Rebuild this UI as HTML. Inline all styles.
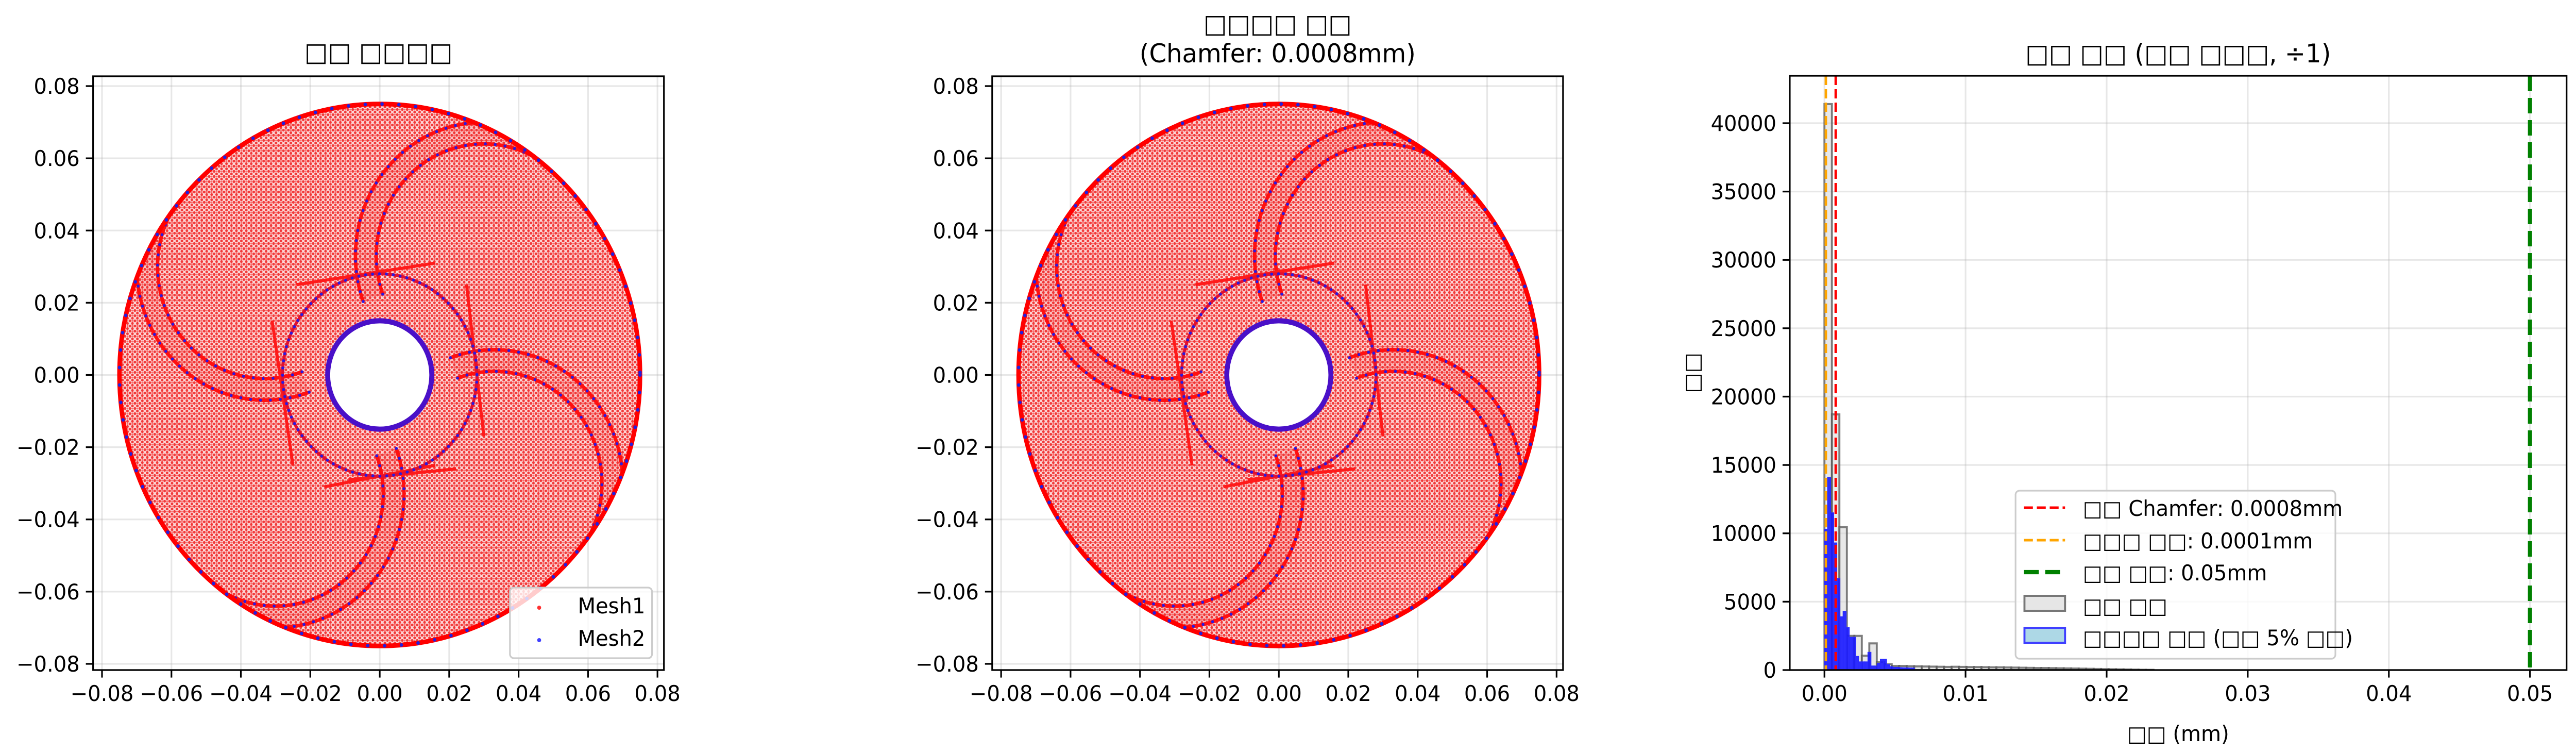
<!DOCTYPE html>
<html><head><meta charset="utf-8">
<style>
html,body{margin:0;padding:0;background:#fff;width:100%;height:100%;overflow:hidden;}
svg{display:block;width:100vw;height:100vh;}
text{font-family:"DejaVu Sans","Liberation Sans","Noto Sans CJK KR",sans-serif;}
</style></head>
<body>
<svg id="fig" viewBox="0 0 5203 1459" preserveAspectRatio="none" xmlns="http://www.w3.org/2000/svg">
<defs>
<pattern id="meshpat" width="10" height="10" patternUnits="userSpaceOnUse">
<rect width="10" height="10" fill="#fcd6d6"/>
<circle cx="2.5" cy="2.5" r="2.7" fill="#f23a3a"/>
<circle cx="7.5" cy="7.5" r="2.7" fill="#f23a3a"/>
<circle cx="7.5" cy="2.5" r="1.8" fill="#f77070"/>
</pattern>
<clipPath id="clipL"><rect x="188" y="148" width="1153" height="1152"/></clipPath>
<clipPath id="clipM"><rect x="2004" y="148" width="1155" height="1152"/></clipPath>
<clipPath id="clipH"><rect x="3615" y="147" width="1569" height="1153"/></clipPath>
</defs>
</svg>
<script>
// ---------- data ----------
const meshTicks = [-0.08,-0.06,-0.04,-0.02,0.00,0.02,0.04,0.06,0.08];
const meshTickLabels = ["\u22120.08","\u22120.06","\u22120.04","\u22120.02","0.00","0.02","0.04","0.06","0.08"];
const ringRadii = [0.015, 0.028, 0.075];           // hole, middle ring, outer boundary
const bladeCenterX = [0.030, 0.033, -0.030, -0.033];
const bladeCenterY = [0.033, -0.030, -0.033, 0.030];
const bladeStartDeg = [200, 110, 20, -70];
const bladeRadii = [0.031, 0.037];
const segX1 = [-0.024, 0.025, 0.016, -0.031, -0.009, 0.006];
const segY1 = [0.025, 0.025, -0.025, 0.015, -0.029, 0.005];
const segX2 = [0.016, 0.030, -0.016, -0.025, 0.022, 0.010];
const segY2 = [0.031, -0.017, -0.031, -0.025, -0.026, -0.005];

const histCategoriesStart = 0;
const grayBinWidth = 0.00053;
const grayCounts = [41400,18700,10450,2500,2500,1050,1950,580,430,300,300,280,270,260,250,240,230,240,230,220,220,210,200,200,190,180,170,160,150,150,140,130,120,110,100,90,80,70,60,50,40,30,20,15];
const blueBinWidth = 0.00022;
const blueCounts = [10300,14100,11500,9300,6700,3900,4300,3100,2400,2400,1000,600,600,600,1300,300,300,500,800,800,400,250,200,200,180,170,160,150,150];
const histXTicks = [0,0.01,0.02,0.03,0.04,0.05];
const histXTickLabels = ["0.00","0.01","0.02","0.03","0.04","0.05"];
const histYTicks = [0,5000,10000,15000,20000,25000,30000,35000,40000];
const refLineValues = [0.0008, 0.0001, 0.05];

// ---------- helpers ----------
const NS = "http://www.w3.org/2000/svg";
const svg = document.getElementById("fig");
function mk(tag, attrs, parent, txt){
  const e = document.createElementNS(NS, tag);
  for (const k in attrs) e.setAttribute(k, attrs[k]);
  if (txt !== undefined) e.textContent = txt;
  (parent || svg).appendChild(e);
  return e;
}
const FS = 41.7;

function meshPanel(name, ox, clipId, legend){
  const g = mk("g", {});
  
  
  const x0 = 188 + ox, x1 = 1341 + ox, y0 = 148, y1 = 1300;
  const sx = v => 767 + ox + v * 7012;
  const sy = v => 727.5 - v * 7006;
  const grid = mk("g", {}, g);
  
  
  meshTicks.forEach(t => {
    mk("line", {x1:sx(t), x2:sx(t), y1:y0, y2:y1, stroke:"#b0b0b0", "stroke-opacity":0.3, "stroke-width":3.3}, grid);
    mk("line", {x1:x0, x2:x1, y1:sy(t), y2:sy(t), stroke:"#b0b0b0", "stroke-opacity":0.3, "stroke-width":3.3}, grid);
  });
  const plot = mk("g", {"clip-path":"url(#"+clipId+")"}, g);
  
  
  const cx = sx(0), cy = sy(0);
  const rO = ringRadii[2] * 7010, rH = ringRadii[0] * 7010, rM = ringRadii[1] * 7010;
  const fill = mk("path", {d:`M${cx-rO},${cy} a${rO},${rO} 0 1,0 ${2*rO},0 a${rO},${rO} 0 1,0 ${-2*rO},0 Z M${cx-rH},${cy} a${rH},${rH} 0 1,1 ${2*rH},0 a${rH},${rH} 0 1,1 ${-2*rH},0 Z`, fill:"url(#meshpat)", "fill-rule":"evenodd"}, plot);
  
  
  for (let b = 0; b < bladeCenterX.length; b++){
    const pts = [[],[]];
    bladeRadii.forEach((r, ri) => {
      for (let a = bladeStartDeg[b]; a >= bladeStartDeg[b] - 230; a -= 2){
        const px = bladeCenterX[b] + r * Math.cos(a*Math.PI/180);
        const py = bladeCenterY[b] + r * Math.sin(a*Math.PI/180);
        if (Math.hypot(px, py) > 0.0752) break;
        pts[ri].push([sx(px), sy(py)]);
      }
    });
    const band = pts[0].concat(pts[1].slice().reverse());
    const bp = mk("polygon", {points: band.map(p=>p.join(",")).join(" "), fill:"#ee2020", "fill-opacity":0.12}, plot);
    
    
    pts.forEach(pl => {
      const s = pl.map(p=>p.join(",")).join(" ");
      const l = mk("polyline", {points:s, fill:"none", stroke:"#ff1010", "stroke-width":7}, plot);
      
      
      mk("polyline", {points:s, fill:"none", stroke:"#2a1ae0", "stroke-width":6, "stroke-linecap":"round", "stroke-dasharray":"0 20"}, plot);
    });
  }
  for (let i = 0; i < segX1.length; i++){
    const s = mk("line", {x1:sx(segX1[i]), y1:sy(segY1[i]), x2:sx(segX2[i]), y2:sy(segY2[i]), stroke:"#ff1a1a", "stroke-width":6}, plot);
    
    
  }
  const outer = mk("circle", {cx, cy, r:rO, fill:"none", stroke:"#ff0000", "stroke-width":9}, plot);
  
  
  mk("circle", {cx, cy, r:rO, fill:"none", stroke:"#2020e0", "stroke-width":7, "stroke-linecap":"round", "stroke-dasharray":"0 34"}, plot);
  const mid = mk("circle", {cx, cy, r:rM, fill:"none", stroke:"#e01030", "stroke-width":6}, plot);
  
  
  mk("circle", {cx, cy, r:rM, fill:"none", stroke:"#2a1ae0", "stroke-width":6, "stroke-linecap":"round", "stroke-dasharray":"0 14"}, plot);
  const hole = mk("circle", {cx, cy, r:rH, fill:"#fff", stroke:"#4a10c8", "stroke-width":10}, plot);
  
  
  const fr = mk("rect", {x:x0, y:y0, width:x1-x0, height:y1-y0, fill:"none", stroke:"#000", "stroke-width":3.3}, g);
  
  
  meshTicks.forEach((t, i) => {
    mk("line", {x1:sx(t), x2:sx(t), y1:y1, y2:y1+14.6, stroke:"#000", "stroke-width":3.3}, g);
    const tx = mk("text", {x:sx(t), y:y1+60, "font-size":FS, "text-anchor":"middle"}, g, meshTickLabels[i]);
    
    
    mk("line", {x1:x0-14.6, x2:x0, y1:sy(t), y2:sy(t), stroke:"#000", "stroke-width":3.3}, g);
    const ty = mk("text", {x:x0-27, y:sy(t)+15, "font-size":FS, "text-anchor":"end"}, g, meshTickLabels[i]);
    
    
  });
  if (legend){
    const lg = mk("g", {}, g);
    
    
    mk("rect", {x:1030, y:1140, width:287, height:137, rx:8, fill:"#fff", "fill-opacity":0.8, stroke:"#cccccc", "stroke-width":3.3}, lg);
    const e1 = mk("g", {}, lg);
    
    
    mk("circle", {cx:1089, cy:1179, r:4, fill:"#ff3030"}, e1);
    mk("text", {x:1167, y:1190, "font-size":FS}, e1, "Mesh1");
    const e2 = mk("g", {}, lg);
    
    
    mk("circle", {cx:1089, cy:1242, r:4, fill:"#4040ff"}, e2);
    mk("text", {x:1167, y:1253, "font-size":FS}, e2, "Mesh2");
  }
  return {x0, x1};
}

const pL = meshPanel("original-mesh-panel", 0, "clipL", true);
const pM = meshPanel("chamfer-mesh-panel", 1816, "clipM", false);

let t = mk("text", {x:(pL.x0+pL.x1)/2, y:118, "font-size":50, "text-anchor":"middle"}, svg, "□□ □□□□");


t = mk("text", {x:(pM.x0+pM.x1)/2, y:63, "font-size":50, "text-anchor":"middle"}, svg, "□□□□ □□");


t = mk("text", {x:(pM.x0+pM.x1)/2, y:121, "font-size":50, "text-anchor":"middle"}, svg, "(Chamfer: 0.0008mm)");



// ---------- histogram ----------
(function(){
  const x0 = 3615, x1 = 5184, y0 = 147, y1 = 1300;
  const sx = v => 3685 + v * 28500;
  const sy = v => 1300 - v * 0.026525;
  const g = mk("g", {});
  
  
  const grid = mk("g", {}, g);
  
  
  histXTicks.forEach(v => mk("line", {x1:sx(v), x2:sx(v), y1:y0, y2:y1, stroke:"#b0b0b0", "stroke-opacity":0.3, "stroke-width":3.3}, grid));
  histYTicks.forEach(v => mk("line", {x1:x0, x2:x1, y1:sy(v), y2:sy(v), stroke:"#b0b0b0", "stroke-opacity":0.3, "stroke-width":3.3}, grid));
  const plot = mk("g", {"clip-path":"url(#clipH)"}, g);
  grayCounts.forEach((c, i) => {
    const a = sx(histCategoriesStart + i*grayBinWidth), b = sx(histCategoriesStart + (i+1)*grayBinWidth);
    const r = mk("rect", {x:a, y:sy(c), width:b-a, height:sy(0)-sy(c), fill:"#d8d8d8", "fill-opacity":0.6, stroke:"#555", "stroke-opacity":0.75, "stroke-width":4}, plot);
    
    
  });
  blueCounts.forEach((c, i) => {
    const a = sx(histCategoriesStart + i*blueBinWidth), b = sx(histCategoriesStart + (i+1)*blueBinWidth);
    const r = mk("rect", {x:a, y:sy(c), width:b-a, height:sy(0)-sy(c), fill:"#1818ff", "fill-opacity":0.9, stroke:"#2a2aff", "stroke-width":1.5}, plot);
    
    
  });
  const lineStyles = [["#ff0000",5,"18 8"],["#ffa500",5,"18 8"],["#008000",8.3,"30 13"]];
  refLineValues.forEach((v, i) => {
    const l = mk("line", {x1:sx(v), x2:sx(v), y1:y0, y2:y1, stroke:lineStyles[i][0], "stroke-width":lineStyles[i][1], "stroke-dasharray":lineStyles[i][2]}, plot);
    
    
  });
  const fr = mk("rect", {x:x0, y:y0, width:x1-x0, height:y1-y0, fill:"none", stroke:"#000", "stroke-width":3.3}, g);
  
  
  histXTicks.forEach((v, i) => {
    mk("line", {x1:sx(v), x2:sx(v), y1:y1, y2:y1+14.6, stroke:"#000", "stroke-width":3.3}, g);
    const tx = mk("text", {x:sx(v), y:y1+60, "font-size":FS, "text-anchor":"middle"}, g, histXTickLabels[i]);
    
    
  });
  histYTicks.forEach(v => {
    mk("line", {x1:x0-14.6, x2:x0, y1:sy(v), y2:sy(v), stroke:"#000", "stroke-width":3.3}, g);
    const ty = mk("text", {x:x0-27, y:sy(v)+15, "font-size":FS, "text-anchor":"end"}, g, String(v));
    
    
  });
  let tt = mk("text", {x:(x0+x1)/2, y:1438, "font-size":FS, "text-anchor":"middle"}, g, "□□ (mm)");
  
  
  tt = mk("text", {x:0, y:0, "font-size":FS, "text-anchor":"middle", transform:`translate(3432,${(y0+y1)/2}) rotate(-90)`}, g, "□□");
  
  
  tt = mk("text", {x:(x0+x1)/2, y:121, "font-size":50, "text-anchor":"middle"}, g, "□□ □□ (□□ □□□, ÷1)");
  
  
  const lg = mk("g", {}, g);
  
  
  mk("rect", {x:4071, y:952, width:646, height:326, rx:8, fill:"#fff", "fill-opacity":0.8, stroke:"#cccccc", "stroke-width":3.3}, lg);
  const labels = ["□□ Chamfer: 0.0008mm","□□□ □□: 0.0001mm","□□ □□: 0.05mm","□□ □□","□□□□ □□ (□□ 5% □□)"];
  const ys = [987,1050,1112,1176,1238];
  labels.forEach((lab, i) => {
    const e = mk("g", {}, lg);
    
    
    if (i < 3){
      mk("line", {x1:4088, x2:4171, y1:ys[i]-2, y2:ys[i]-2, stroke:lineStyles[i][0], "stroke-width":lineStyles[i][1], "stroke-dasharray":i==2?"30 13":"18 8"}, e);
    } else if (i == 3){
      mk("rect", {x:4089, y:ys[i]-20, width:82, height:29, fill:"#e6e6e6", stroke:"#777", "stroke-width":4}, e);
    } else {
      mk("rect", {x:4089, y:ys[i]-20, width:82, height:29, fill:"#add8e6", stroke:"#3f3fff", "stroke-width":4}, e);
    }
    mk("text", {x:4207, y:ys[i]+14, "font-size":FS}, e, lab);
  });
})();
</script>
</body></html>
